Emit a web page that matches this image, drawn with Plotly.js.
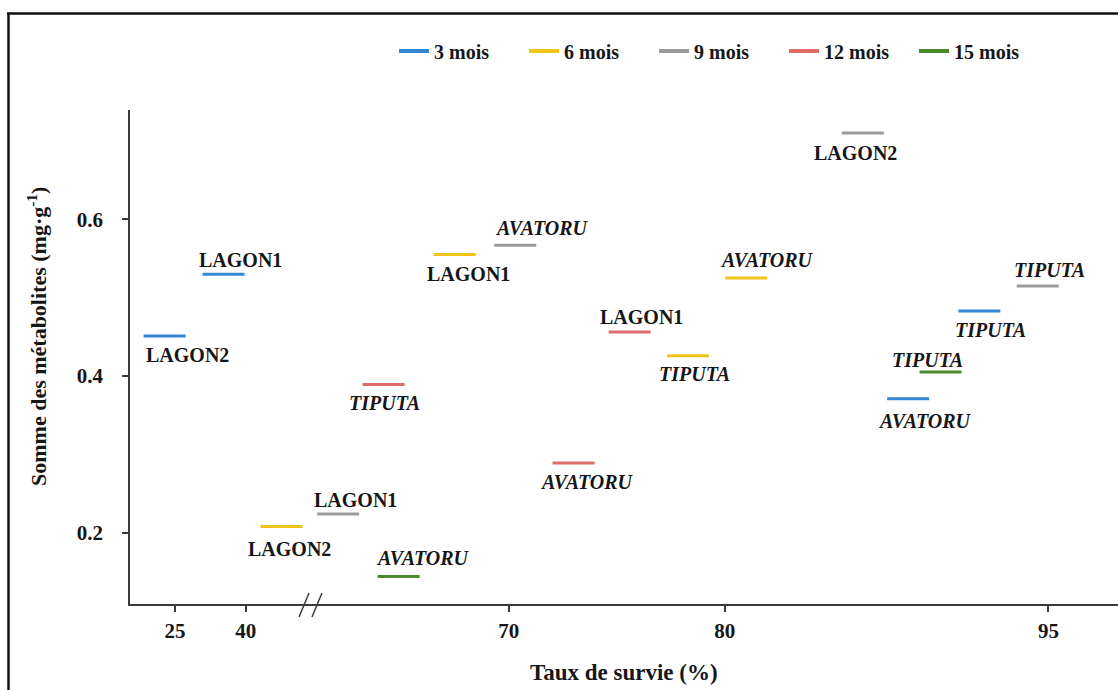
<!DOCTYPE html>
<html>
<head>
<meta charset="utf-8">
<script src="https://cdn.plot.ly/plotly-3.0.1.min.js"></script>
<style>
html,body{margin:0;padding:0;background:#ffffff;}
#chart{width:1118px;height:690px;}
</style>
</head>
<body>
<div id="chart"></div>
<script>
// ---------------- DATA ----------------
const seriesNames = ['3 mois', '6 mois', '9 mois', '12 mois', '15 mois'];

const sites3  = ['LAGON2', 'LAGON1', 'AVATORU', 'TIPUTA'];
const surv3   = [22.8, 35.3, 88.5, 91.8];
const metab3  = [0.451, 0.530, 0.371, 0.483];

const sites6  = ['LAGON2', 'LAGON1', 'TIPUTA', 'AVATORU'];
const surv6   = [47.6, 67.5, 78.3, 81.0];
const metab6  = [0.208, 0.555, 0.426, 0.525];

const sites9  = ['LAGON1', 'AVATORU', 'LAGON2', 'TIPUTA'];
const surv9   = [62.1, 70.3, 86.4, 94.5];
const metab9  = [0.224, 0.567, 0.710, 0.515];

const sites12 = ['TIPUTA', 'AVATORU', 'LAGON1'];
const surv12  = [64.2, 73.0, 75.6];
const metab12 = [0.389, 0.289, 0.456];

const sites15 = ['AVATORU', 'TIPUTA'];
const surv15  = [64.9, 90.0];
const metab15 = [0.144, 0.405];

const xTicksLeft  = [25, 40];
const xTicksRight = [70, 80, 95];
const yTicks      = [0.2, 0.4, 0.6];

const xTitle = 'Taux de survie (%)';
const yTitle = 'Somme des métabolites (mg·g<sup>-1</sup>)';
const italicSites = ['AVATORU', 'TIPUTA'];

// ---------------- STYLE / LAYOUT CONFIG ----------------
const colors = ['#3388d6', '#f2c318', '#9b9b9b', '#df6b6b', '#4b8b2b'];
// label offsets in pixels [dx, dy(down)], same order as the data above
const labelOffsets = [
  [[22.6, 19.3], [17, -14], [16.7, 22.7], [10.8, 19.3]],
  [[7.8, 23], [13.7, 19], [6.2, 18.3], [21, -18.3]],
  [[17, -14], [27.2, -16.7], [-7.2, 20], [11.5, -15.7]],
  [[1.3, 18.3], [13, 18.7], [12.2, -15]],
  [[24.5, -18.4], [-13.2, -12.4]]
];
const W = 1118, H = 690, ML = 130, MR = 0, MT = 110, MB = 86;
const breakValue = 55;          // survival values below this sit on the left axis segment
const FONT = 'Liberation Serif, Times New Roman, serif';
const TXT = '#161616';
const AX = '#3a3a3a';

const px2x = p => (p - ML) / (W - ML - MR);
const py2y = p => (H - MB - p) / (H - MT - MB);

const series = [
  {sites: sites3,  x: surv3,  y: metab3},
  {sites: sites6,  x: surv6,  y: metab6},
  {sites: sites9,  x: surv9,  y: metab9},
  {sites: sites12, x: surv12, y: metab12},
  {sites: sites15, x: surv15, y: metab15}
];

const traces = [];
const annotations = [];

// legend entries
seriesNames.forEach((name, i) => {
  traces.push({
    type: 'scatter', mode: 'lines', x: [null], y: [null], xaxis: 'x2', yaxis: 'y',
    name: name, legendgroup: name, showlegend: true, hoverinfo: 'skip',
    line: {color: colors[i], width: 4}
  });
});

series.forEach((s, i) => {
  ['x', 'x2'].forEach(axisId => {
    const idx = s.x.map((v, k) => k).filter(k => (axisId === 'x') === (s.x[k] < breakValue));
    if (!idx.length) return;
    traces.push({
      type: 'scatter', mode: 'markers',
      x: idx.map(k => s.x[k]), y: idx.map(k => s.y[k]),
      text: idx.map(k => s.sites[k]),
      xaxis: axisId, yaxis: 'y',
      name: seriesNames[i], legendgroup: seriesNames[i], showlegend: false,
      hovertemplate: '%{text}<br>%{x}%<br>%{y}<extra>' + seriesNames[i] + '</extra>',
      marker: {symbol: 'line-ew', size: 30, color: colors[i], line: {color: colors[i], width: 3}}
    });
  });
  s.sites.forEach((site, k) => {
    const off = labelOffsets[i][k];
    annotations.push({
      xref: s.x[k] < breakValue ? 'x' : 'x2', yref: 'y',
      x: s.x[k], y: s.y[k],
      text: italicSites.includes(site) ? '<i>' + site + '</i>' : site,
      showarrow: false, xanchor: 'center', yanchor: 'middle',
      xshift: off[0], yshift: -off[1],
      font: {family: FONT, size: 20, weight: 700, color: TXT}
    });
  });
});

// axis titles
annotations.push({
  xref: 'paper', yref: 'paper', x: 0.5, y: py2y(672),
  text: xTitle, showarrow: false, xanchor: 'center', yanchor: 'middle',
  font: {family: FONT, size: 23, weight: 700, color: TXT}
});
annotations.push({
  xref: 'paper', yref: 'paper', x: px2x(37), y: py2y(337),
  text: yTitle, showarrow: false, xanchor: 'center', yanchor: 'middle', textangle: -90,
  font: {family: FONT, size: 22, weight: 700, color: TXT}
});

const tickFont = {family: FONT, size: 21, weight: 700, color: TXT};
const axisCommon = {
  showline: true, linecolor: AX, linewidth: 1.5,
  ticks: 'outside', ticklen: 6, tickwidth: 1.5, tickcolor: AX,
  showgrid: false, zeroline: false, tickfont: tickFont, fixedrange: true
};

const shapes = [
  // axis break marks
  {type: 'line', xref: 'paper', yref: 'paper', x0: px2x(299), y0: py2y(617), x1: px2x(309), y1: py2y(593), line: {color: AX, width: 1.5}},
  {type: 'line', xref: 'paper', yref: 'paper', x0: px2x(312), y0: py2y(617), x1: px2x(322), y1: py2y(593), line: {color: AX, width: 1.5}},
  // figure frame
  {type: 'line', xref: 'paper', yref: 'paper', x0: px2x(8.5), y0: py2y(13), x1: px2x(8.5), y1: py2y(692), line: {color: '#111', width: 2.5}},
  {type: 'line', xref: 'paper', yref: 'paper', x0: px2x(7), y0: py2y(13.5), x1: px2x(1120), y1: py2y(13.5), line: {color: '#111', width: 2.5}}
];

const layout = {
  width: W, height: H,
  margin: {l: ML, r: MR, t: MT, b: MB, pad: 0, autoexpand: false},
  paper_bgcolor: '#ffffff', plot_bgcolor: '#ffffff',
  showlegend: true,
  legend: {
    orientation: 'h', x: px2x(394), xanchor: 'left', y: py2y(51), yanchor: 'middle',
    font: {family: FONT, size: 20, weight: 700, color: TXT},
    entrywidth: 85, entrywidthmode: 'pixels', bgcolor: 'rgba(0,0,0,0)', borderwidth: 0
  },
  xaxis: Object.assign({}, axisCommon, {
    domain: [0, px2x(311)], range: [15.45, 53.87], anchor: 'y',
    tickvals: xTicksLeft, ticktext: xTicksLeft.map(String), ticklabelstandoff: 1
  }),
  xaxis2: Object.assign({}, axisCommon, {
    domain: [px2x(311), 1], range: [60.84, 98.22], anchor: 'y',
    tickvals: xTicksRight, ticktext: xTicksRight.map(String), ticklabelstandoff: 1
  }),
  yaxis: Object.assign({}, axisCommon, {
    range: [0.109, 0.7395], anchor: 'x',
    tickvals: yTicks, ticktext: yTicks.map(v => v.toFixed(1)), ticklabelstandoff: 15
  }),
  annotations: annotations,
  shapes: shapes
};

Plotly.newPlot('chart', traces, layout, {displayModeBar: false, staticPlot: false, responsive: false});
</script>
</body>
</html>
